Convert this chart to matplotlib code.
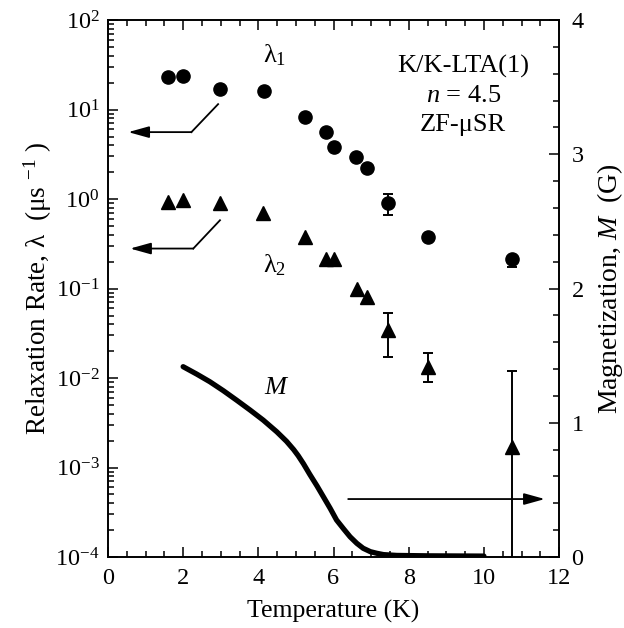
import numpy as np
import matplotlib
matplotlib.use("Agg")
import matplotlib.pyplot as plt
from matplotlib.ticker import LogLocator, MultipleLocator, NullFormatter

plt.rcParams["font.family"] = ["Liberation Serif", "DejaVu Serif"]
plt.rcParams["mathtext.fontset"] = "custom"
plt.rcParams["mathtext.rm"] = "Liberation Serif"
plt.rcParams["mathtext.it"] = "Liberation Serif:italic"
plt.rcParams["mathtext.bf"] = "Liberation Serif:bold"

# lambda_1 (circles), muSR relaxation rate in 1/us
t1 = [1.60, 1.99, 2.99, 4.15, 5.24, 5.80, 6.01, 6.60, 6.90, 7.45, 8.50, 10.75]
lam1 = [23.3, 23.9, 16.8, 16.2, 8.2, 5.65, 3.78, 2.93, 2.20, 0.91, 0.38, 0.212]
# points of lambda_1 that carry error bars: T, value, lower, upper bound
t1_err = [7.45, 10.75]
lam1_err_val = [0.91, 0.212]
lam1_err_lo = [0.67, 0.174]
lam1_err_hi = [1.14, 0.23]

# lambda_2 (triangles)
t2 = [1.60, 1.99, 2.98, 4.13, 5.24, 5.80, 6.00, 6.62, 6.90, 7.45, 8.50, 10.75]
lam2 = [0.933, 0.975, 0.896, 0.703, 0.373, 0.215, 0.215, 0.100, 0.080, 0.034, 0.0134, 0.0017]
t2_err = [7.45, 8.50, 10.75]
lam2_err_val = [0.034, 0.0134, 0.0017]
lam2_err_lo = [0.017, 0.0091, 1e-6]
lam2_err_hi = [0.053, 0.0189, 0.0119]

# magnetization M (G), right axis
m_t = [2.00, 2.36, 2.71, 3.07, 3.42, 3.78, 4.13, 4.49, 4.75, 4.94, 5.06, 5.20, 5.37,
       5.56, 5.73, 5.91, 6.08, 6.27, 6.44, 6.62, 6.79, 6.98, 7.15, 7.33, 7.68, 8.50, 10.0]
m_val = [1.418, 1.363, 1.306, 1.239, 1.169, 1.095, 1.020, 0.933, 0.862, 0.800, 0.755,
         0.695, 0.615, 0.530, 0.449, 0.363, 0.276, 0.209, 0.151, 0.102, 0.065, 0.040,
         0.028, 0.018, 0.012, 0.009, 0.007]

fig = plt.figure(figsize=(6.24, 6.28), dpi=100)
ax = fig.add_axes([0.173, 0.113, 0.723, 0.855])
ax2 = ax.twinx()

ax.plot(t1, lam1, "o", color="black", ms=9.5, zorder=3)
ax.errorbar(t1_err, lam1_err_val,
            yerr=[np.subtract(lam1_err_val, lam1_err_lo), np.subtract(lam1_err_hi, lam1_err_val)],
            fmt="none", ecolor="black", elinewidth=1.4, capsize=3.5, capthick=1.4)
ax.plot(t2, lam2, "^", color="black", ms=9.5, zorder=3)
ax.errorbar(t2_err, lam2_err_val,
            yerr=[np.subtract(lam2_err_val, lam2_err_lo), np.subtract(lam2_err_hi, lam2_err_val)],
            fmt="none", ecolor="black", elinewidth=1.4, capsize=3.5, capthick=1.4)

ax2.plot(m_t, m_val, "-", color="black", lw=3.8, solid_capstyle="round", solid_joinstyle="round")

# scales / ticks
ax.set_yscale("log")
ax.set_xlim(0, 12)
ax.set_ylim(1e-4, 1e2)
ax2.set_ylim(0, 4)
ax.xaxis.set_major_locator(MultipleLocator(2))
ax.xaxis.set_minor_locator(MultipleLocator(0.5))
ax.yaxis.set_major_locator(LogLocator(base=10, numticks=10))
ax.yaxis.set_minor_locator(LogLocator(base=10, subs=np.arange(2, 10), numticks=20))
ax.yaxis.set_minor_formatter(NullFormatter())
ax2.yaxis.set_major_locator(MultipleLocator(1))
ax2.yaxis.set_minor_locator(MultipleLocator(0.2))

ax.tick_params(which="both", direction="in", top=True, right=False, labelsize=17.5, width=1.1)
ax.tick_params(axis="x", which="major", length=7, pad=8)
ax.tick_params(axis="y", which="major", length=7, pad=6)
ax.tick_params(which="minor", length=4)
ax2.tick_params(which="both", direction="in", labelsize=17.5, width=1.1)
ax2.tick_params(which="major", length=7, pad=9)
ax2.tick_params(which="minor", length=4)
for a in (ax, ax2):
    for s in a.spines.values():
        s.set_linewidth(1.2)

ax.set_xlabel("Temperature (K)", fontsize=18.5, labelpad=8)
ax.set_ylabel("Relaxation Rate, λ  (μs $^{-1}$ )", fontsize=19.5, labelpad=1)
ax2.set_ylabel("Magnetization, $M$  (G)", fontsize=20, labelpad=8)

# annotations
ax.text(4.13, 33.3, "λ$_1$", fontsize=19, ha="left", va="baseline")
ax.text(4.13, 0.153, "λ$_2$", fontsize=19, ha="left", va="baseline")
ax.text(4.14, 0.0066, "$M$", fontsize=19, ha="left", va="baseline")
ax.text(9.45, 30.0, "K/K-LTA(1)", fontsize=19, ha="center", va="center")
ax.text(9.45, 14.2, "$n$ = 4.5", fontsize=19, ha="center", va="center")
ax.text(9.45, 6.75, "ZF-μSR", fontsize=19, ha="center", va="center")

arrow_kw = dict(arrowstyle="-|>,head_length=0.9,head_width=0.25", color="black", lw=1.3,
                mutation_scale=14, shrinkA=0, shrinkB=0)
# lambda_1 -> left axis
ax.plot([2.93, 2.22], [11.5, 5.6], color="black", lw=1.3)
ax.annotate("", xy=(0.54, 5.6), xytext=(2.22, 5.6), arrowprops=arrow_kw)
# lambda_2 -> left axis
ax.plot([2.98, 2.27], [0.58, 0.28], color="black", lw=1.3)
ax.annotate("", xy=(0.59, 0.28), xytext=(2.27, 0.28), arrowprops=arrow_kw)
# M -> right axis
ax2.annotate("", xy=(11.62, 0.432), xytext=(6.39, 0.432), arrowprops=arrow_kw)

fig.savefig("out.png", dpi=100)
